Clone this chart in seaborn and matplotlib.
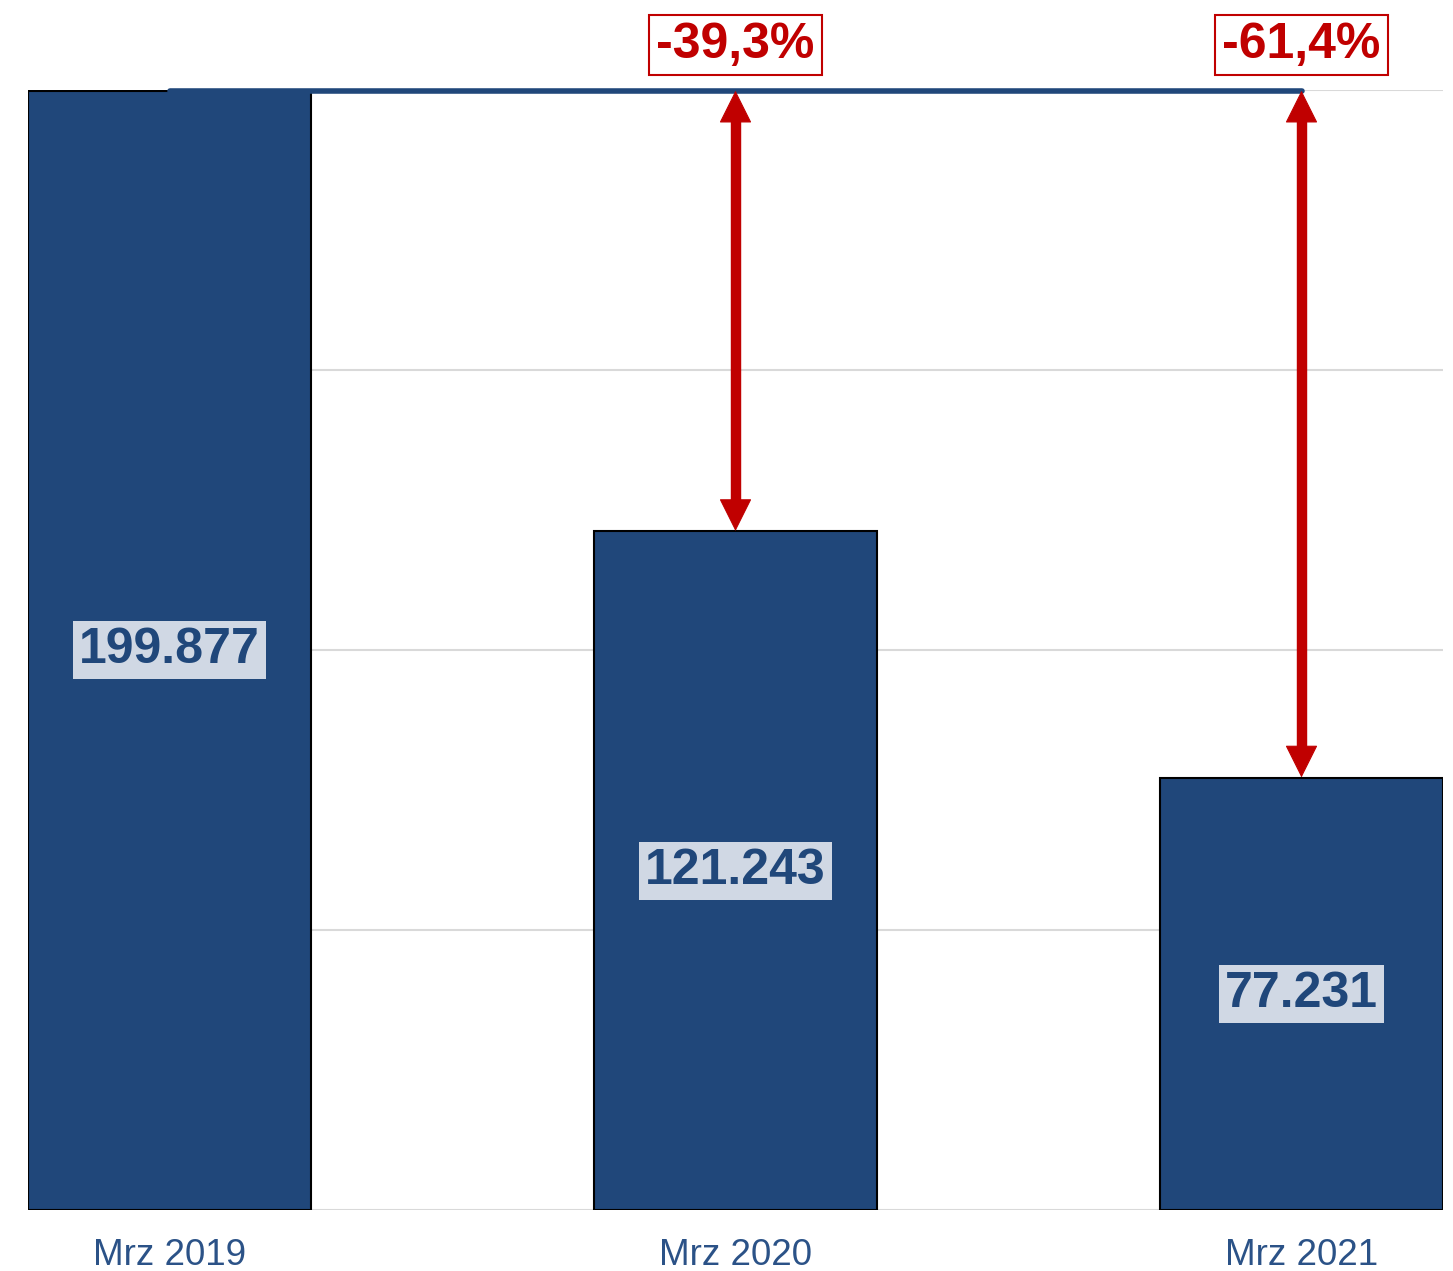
import matplotlib
matplotlib.use('Agg')
import matplotlib.pyplot as plt
import seaborn as sns
import pandas as pd

# dati del grafico
mesi = ['Mrz 2019', 'Mrz 2020', 'Mrz 2021']
valori = [199877, 121243, 77231]
etichette_valori = ['199.877', '121.243', '77.231']
variazioni = ['-39,3%', '-61,4%']

blu = '#20477A'
rosso = '#C00000'

sns.set_theme(style='white')
plt.rcParams['font.family'] = ['Liberation Sans', 'DejaVu Sans']

df = pd.DataFrame({'Mese': mesi, 'Valore': valori})

fig = plt.figure(figsize=(14.53, 12.71), dpi=100)
ax = fig.add_axes([28 / 1453, 61 / 1271, 1415 / 1453, 1120 / 1271])

# griglia orizzontale
ax.set_ylim(0, 200000)
ax.set_yticks([0, 50000, 100000, 150000, 200000])
ax.yaxis.grid(True, color='#D9D9D9', linewidth=1.5)
ax.set_axisbelow(True)

sns.barplot(data=df, x='Mese', y='Valore', color=blu, width=0.5, saturation=1,
            edgecolor='black', linewidth=1.5, ax=ax)
ax.set_xlim(-0.25, 2.25)

# etichette dei valori al centro delle barre
for i, (v, t) in enumerate(zip(valori, etichette_valori)):
    ax.text(i, v / 2, t, ha='center', va='center', fontsize=36, fontweight='bold',
            color=blu, bbox=dict(boxstyle='square,pad=0.12', facecolor='#D0D8E4', edgecolor='none'))

# linea di riferimento dal valore iniziale
ax.plot([0, len(valori) - 1], [valori[0], valori[0]], color=blu, linewidth=4,
        solid_capstyle='round', clip_on=False, zorder=4)

# frecce e variazioni percentuali
rientro = 15 * 200000 / 1120  # metà della punta in unità dei dati
for i, testo in enumerate(variazioni, start=1):
    ax.plot([i, i], [valori[0] - rientro, valori[i] + rientro], color=rosso,
            linewidth=7.5, solid_capstyle='butt', zorder=5)
    ax.annotate('', xy=(i, valori[i]), xytext=(i, valori[0]),
                arrowprops=dict(arrowstyle='<|-|>', color=rosso, linewidth=0.8,
                                mutation_scale=54, shrinkA=0, shrinkB=0), zorder=5)
    ax.annotate(testo, xy=(i, valori[0]), xytext=(0, 33), textcoords='offset points',
                ha='center', va='center', fontsize=36, fontweight='bold', color=rosso,
                bbox=dict(boxstyle='square,pad=0.14', facecolor='white', edgecolor=rosso, linewidth=1.5),
                annotation_clip=False)

# assi
ax.set_xlabel('')
ax.set_ylabel('')
ax.set_yticklabels([])
ax.tick_params(axis='both', length=0)
ax.tick_params(axis='x', labelsize=26.5, labelcolor='#2B5287', pad=20)
sns.despine(ax=ax, left=True, top=True, right=True, bottom=True)

fig.savefig('out.png', dpi=100)
